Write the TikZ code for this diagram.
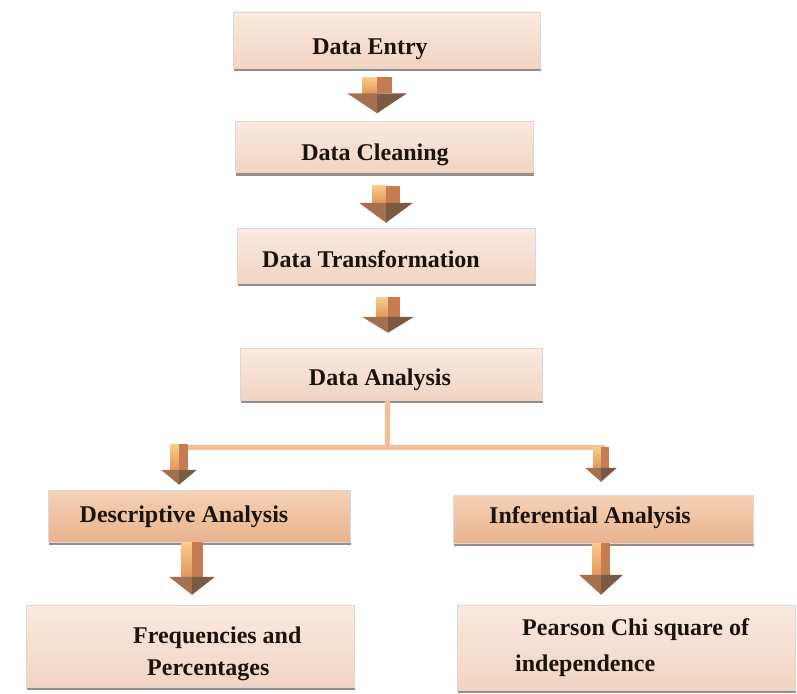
\documentclass[tikz,border=0pt]{standalone}
\usepackage{fontspec}
\setmainfont{Liberation Serif}
\usetikzlibrary{shadows,calc}
\definecolor{boxtop}{RGB}{250,234,224}
\definecolor{boxbot}{RGB}{242,212,194}
\definecolor{dboxtop}{RGB}{245,210,182}
\definecolor{dboxbot}{RGB}{232,180,142}
\definecolor{shaftL}{RGB}{228,150,92}
\definecolor{shaftLtop}{RGB}{246,205,140}
\definecolor{shaftR}{RGB}{198,124,80}
\definecolor{headL}{RGB}{165,112,78}
\definecolor{headR}{RGB}{122,90,66}
\definecolor{linkc}{RGB}{244,190,150}
\definecolor{txtc}{RGB}{28,18,12}
\definecolor{shadowc}{RGB}{120,100,90}
\tikzset{
  box/.style={rectangle, top color=boxtop, bottom color=boxbot, draw=gray!30, line width=0.5pt,
     drop shadow={shadow xshift=1pt, shadow yshift=-3pt, fill=shadowc, opacity=0.75}, inner sep=0pt},
  dbox/.style={box, top color=dboxtop, bottom color=dboxbot},
  txt/.style={font=\fontsize{24pt}{28pt}\selectfont\bfseries, text=txtc, inner sep=0pt},
  link/.style={draw=linkc, line width=5pt}
}
% #1 top anchor, #2 bottom anchor, #3 x, #4 top gap, #5 bottom gap, #6 half shaft, #7 half head, #8 head length
\newcommand\blockarrow[8]{%
  \coordinate (xa) at (#3,0);
  \coordinate (t0) at (xa |- #1);
  \coordinate (b0) at (xa |- #2);
  \coordinate (ta) at ([yshift=-#4pt]t0);
  \coordinate (ba) at ([yshift=#5pt]b0);
  \coordinate (ha) at ([yshift=#8pt]ba);
  \fill[top color=shaftLtop, bottom color=shaftL] ([xshift=-#6pt]ta) rectangle (ha);
  \fill[shaftR] (ta) rectangle ([xshift=#6pt]ha);
  \fill[headL] ([xshift=-#7pt]ha) -- (ha) -- (ba) -- cycle;
  \fill[headR] (ha) -- ([xshift=#7pt]ha) -- (ba) -- cycle;
}
\begin{document}
\begin{tikzpicture}[x=1pt, y=-1pt]
\useasboundingbox (0,0) rectangle (797,693);
% boxes
\node[box, minimum width=307pt, minimum height=56pt] (entry) at (386.5,40) {};
\node[box, minimum width=298pt, minimum height=51pt] (clean) at (384,147) {};
\node[box, minimum width=298pt, minimum height=55pt] (trans) at (386,255.5) {};
\node[box, minimum width=302pt, minimum height=52pt] (anal) at (391,374) {};
\node[dbox, minimum width=302pt, minimum height=52pt] (desc) at (199,516) {};
\node[dbox, minimum width=300pt, minimum height=48pt] (inf) at (603,519) {};
\node[box, minimum width=328pt, minimum height=82pt] (freq) at (190,646) {};
\node[box, minimum width=338pt, minimum height=85pt] (pear) at (626,647.5) {};
% texts
\node[txt, anchor=base] (entryT) at (370,55) {Data Entry};
\node[txt, anchor=base] (cleanT) at (375,160) {Data Cleaning};
\node[txt, anchor=base] (transT) at (371,267) {Data Transformation};
\node[txt, anchor=base] (analT) at (380,385) {Data Analysis};
\node[txt, anchor=base] (descT) at (184,522) {Descriptive Analysis};
\node[txt, anchor=base] (infT) at (590,523) {Inferential Analysis};
\node[txt, anchor=base west] (freqA) at (133,643) {Frequencies and};
\node[txt, anchor=base west] (freqB) at (147,675) {Percentages};
\node[txt, anchor=base west] (pearA) at (522,635) {Pearson Chi square of};
\node[txt, anchor=base west] (pearB) at (515,671) {independence};
% branch connector
\coordinate (jn) at (387,447);
\coordinate (bl) at (172,447);
\coordinate (br) at (605,447);
\draw[link] (jn |- anal.south) -- (jn);
\draw[link] (bl) -- (br);
% arrows
\blockarrow{entry.south}{clean.north}{377}{9}{8}{15}{30}{20}
\blockarrow{clean.south}{trans.north}{386}{13}{5}{14}{27}{20}
\blockarrow{trans.south}{anal.north}{388}{14}{15}{12}{26}{16}
\blockarrow{bl}{desc.north}{179}{-3}{5}{9}{18}{15}
\blockarrow{desc.south}{freq.north}{192}{0}{10}{11}{23}{18}
\blockarrow{br}{inf.north}{601}{0}{13}{8}{16}{14}
\blockarrow{inf.south}{pear.north}{601}{0}{10}{9}{22}{20}
\end{tikzpicture}
\end{document}
